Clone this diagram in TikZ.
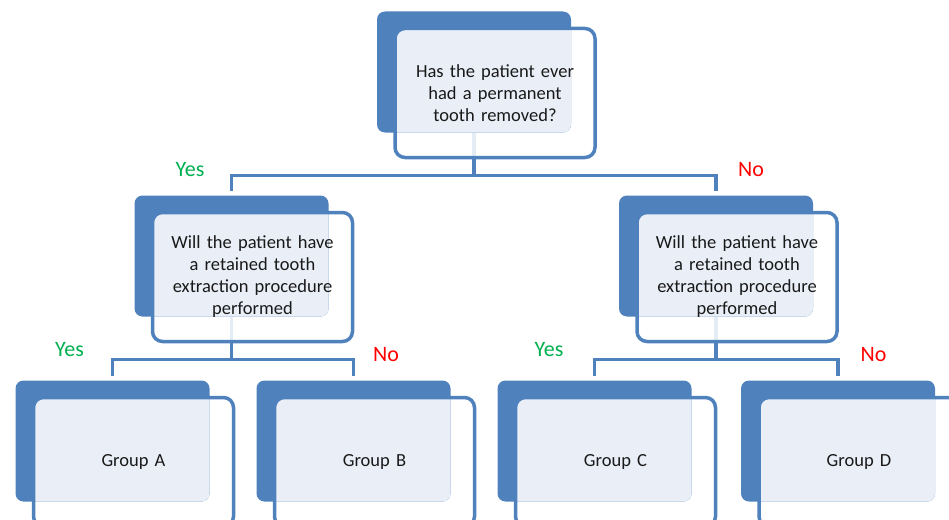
\documentclass[tikz,border=0pt]{standalone}
\usepackage{fontspec}
\setmainfont{Carlito}
\usetikzlibrary{calc}

\pgfdeclarelayer{lines}
\pgfdeclarelayer{back}
\pgfsetlayers{lines,back,main}

\definecolor{boxblue}{HTML}{4F81BD}
\definecolor{boxpale}{HTML}{EAEFF7}
\definecolor{yesgreen}{HTML}{00B050}
\definecolor{nored}{HTML}{FF0000}

\tikzset{
  qbox/.style={draw=boxblue, line width=3.5pt, rounded corners=10pt,
    minimum width=200pt, minimum height=129pt, inner sep=0pt, outer sep=0pt,
    text width=190pt, align=center, text=black!90,
    font=\fontsize{18.5}{22}\selectfont},
  conn/.style={draw=boxblue, line width=3.5pt},
  yes/.style={text=yesgreen, font=\fontsize{22}{24}\selectfont},
  no/.style={text=nored, font=\fontsize{22}{24}\selectfont}
}

\begin{document}
\begin{tikzpicture}[x=1pt,y=-1pt]
            \useasboundingbox (0,0) rectangle (949,519);
            \clip (0,0) rectangle (949,519);

            %question boxes
            \node[qbox] (top) at (495,93) {Has the patient ever\\had a permanent\\tooth removed?};

            \node[qbox] (retL) at (252.5,277) {Will the patient have\\a retained tooth\\extraction procedure\\performed};

            \node[qbox] (retR) at (737,277) {Will the patient have\\a retained tooth\\extraction procedure\\performed};

            %groups
            \node[qbox] (grpA) at (133.5,462) {Group A};

            \node[qbox] (grpB) at (374.5,462) {Group B};

            \node[qbox] (grpC) at (615.5,462) {Group C};

            \node[qbox] (grpD) at (859,462) {Group D};

            %back plates
            \begin{pgfonlayer}{back}
            \foreach \n in {top,retL,retR,grpA,grpB,grpC,grpD}{
                \fill[white, fill opacity=.85, rounded corners=10pt] (\n.north west) rectangle (\n.south east);
                \fill[boxblue, rounded corners=8pt] ($(\n.north west)+(-18,-17)$) coordinate (\n-nw) rectangle ++(194,121);
                \begin{scope}
                    \clip[rounded corners=8pt] (\n-nw) rectangle ++(194,121);
                    \fill[boxpale, rounded corners=10pt] (\n.north west) rectangle (\n.south east);
                \end{scope}
                \coordinate (\n-in) at ($(\n-nw)+(97,-5)$);
                \coordinate (\n-src) at ($(\n-nw)+(97,121)$);
            }
            \end{pgfonlayer}

            %connectors
            \begin{pgfonlayer}{lines}
            \draw[conn] (top-src) -- ++(0,43) -| (retL-in);
            \draw[conn] (top-src) -- ++(0,43) -| (retR-in);

            \draw[conn] (retL-src) -- ++(0,43) -| (grpA-in);
            \draw[conn] (retL-src) -- ++(0,43) -| (grpB-in);

            \draw[conn] (retR-src) -- ++(0,43) -| (grpC-in);
            \draw[conn] (retR-src) -- ++(0,43) -| (grpD-in);
            \end{pgfonlayer}

            %answers
            \node[yes] (yTop) at (190,170) {Yes};

            \node[no] (nTop) at (751,170) {No};

            \node[yes] (yL) at (69.5,350) {Yes};

            \node[no] (nL) at (386,354.5) {No};

            \node[yes] (yR) at (549,350) {Yes};

            \node[no] (nR) at (873.5,354.5) {No};
        \end{tikzpicture}
\end{document}
